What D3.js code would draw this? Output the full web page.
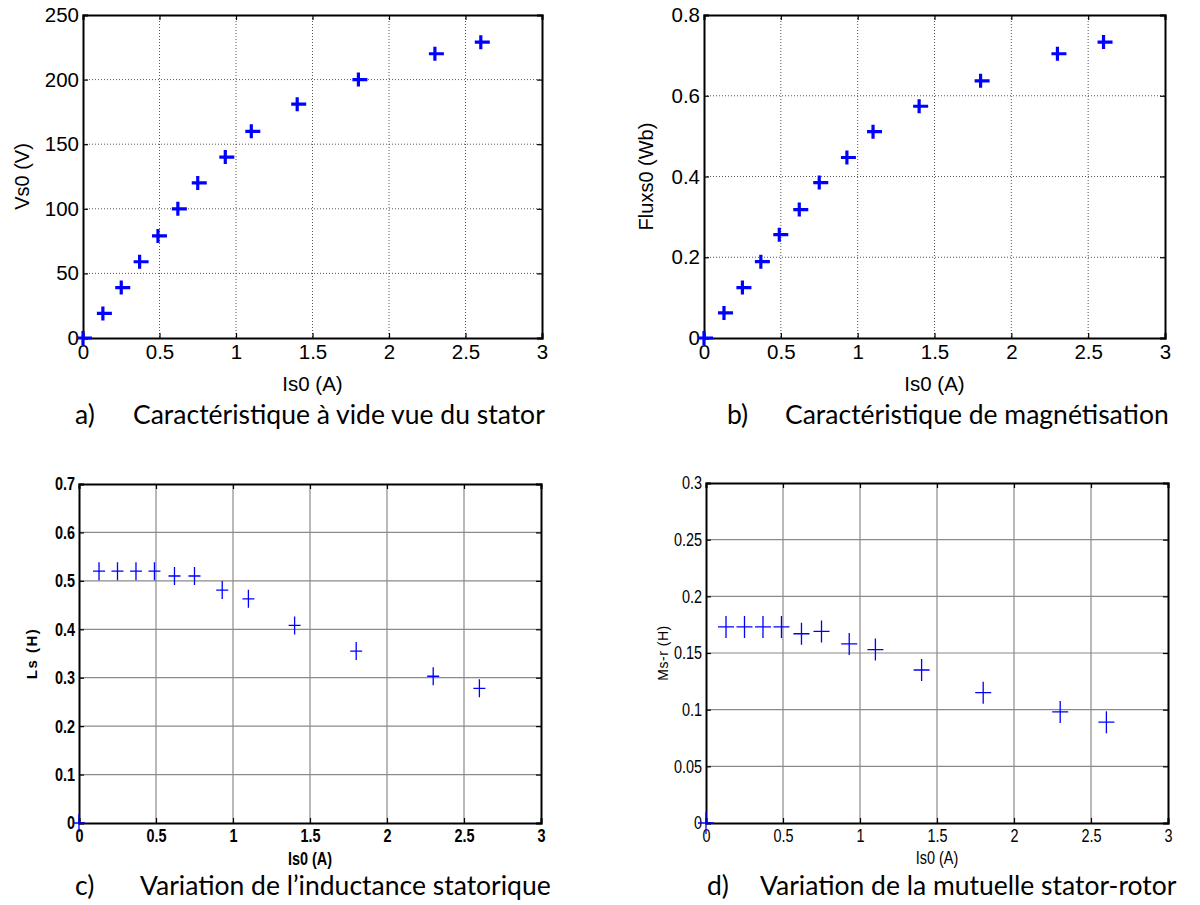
<!DOCTYPE html>
<html>
<head>
<meta charset="utf-8">
<script src="https://cdn.jsdelivr.net/npm/d3@7/dist/d3.min.js"></script>
<style>
    body { margin: 0; background: #fff; }
</style>
</head>
<body>
<script>
// courant statorique a vide Is0 (A)
const is0 = [0, 0.13, 0.25, 0.37, 0.49, 0.62, 0.75, 0.93, 1.1, 1.4, 1.8, 2.3, 2.6];
// tension a vide Vs0 (V)
const vs0 = [0, 19, 39, 59, 79, 100, 120, 140, 160, 181, 200, 220, 229];
// flux statorique Fluxs0 (Wb)
const fluxs0 = [0, 0.062, 0.125, 0.189, 0.256, 0.318, 0.385, 0.447, 0.511, 0.574, 0.637, 0.704, 0.733];
// inductance statorique Ls (H)
const ls = [0, 0.52, 0.52, 0.52, 0.52, 0.51, 0.51, 0.481, 0.463, 0.408, 0.355, 0.303, 0.278];
// mutuelle stator-rotor Ms-r (H)
const msr = [0, 0.173, 0.173, 0.173, 0.173, 0.167, 0.169, 0.158, 0.153, 0.135, 0.115, 0.098, 0.089];

// tick labels
const xTicks = [0, 0.5, 1, 1.5, 2, 2.5, 3];
const vsTicks = [0, 50, 100, 150, 200, 250];
const fluxTicks = [0, 0.2, 0.4, 0.6, 0.8];
const lsTicks = [0, 0.1, 0.2, 0.3, 0.4, 0.5, 0.6, 0.7];
const msrTicks = [0, 0.05, 0.1, 0.15, 0.2, 0.25, 0.3];

const svg = d3.select('body').append('svg')
    .attr('width', 1200)
    .attr('height', 905);

// the three looks used in the figure (matlab default, bold narrow, narrow)
const styles = {
    matlab: {
        font: '"Liberation Sans", Arial, sans-serif', size: 20.5, weight: 'normal', squeeze: 1,
        labelSize: 20, labelSpacing: 0,
        grid: '#555', gridDash: '1,2', gridWidth: 1,
        marker: 'M-6,0H9M0,-7V7', markerWidth: 3.2
    },
    bold: {
        font: '"Liberation Sans", Arial, sans-serif', size: 18.5, weight: 'bold', squeeze: 0.78,
        labelSize: 15, labelSpacing: 1.5,
        grid: '#8a8a8a', gridDash: null, gridWidth: 1.2,
        marker: 'M-6,0H6M0,-9V9', markerWidth: 1.3
    },
    narrow: {
        font: '"Liberation Sans", Arial, sans-serif', size: 18.5, weight: 'normal', squeeze: 0.78,
        labelSize: 14, labelSpacing: 0.5,
        grid: '#8a8a8a', gridDash: null, gridWidth: 1.2,
        marker: 'M-8,0H8M0,-11V11', markerWidth: 1.3
    }
};

const panels = [
    {left: 83, top: 15, width: 459, height: 323, ys: vs0, yTicks: vsTicks, yDomain: [0, 250],
     yLabel: 'Vs0 (V)', yLabelX: 22, xLabelY: 384, style: 'matlab',
     letter: 'a)', letterX: 75, caption: 'Caractéristique à vide vue du stator', captionX: 133, captionY: 424},
    {left: 704, top: 15, width: 461, height: 323, ys: fluxs0, yTicks: fluxTicks, yDomain: [0, 0.8],
     yLabel: 'Fluxs0 (Wb)', yLabelX: 646, xLabelY: 384, style: 'matlab',
     letter: 'b)', letterX: 727, caption: 'Caractéristique de magnétisation', captionX: 785, captionY: 424},
    {left: 79, top: 484, width: 462, height: 339, ys: ls, yTicks: lsTicks, yDomain: [0, 0.7],
     yLabel: 'Ls (H)', yLabelX: 32, xLabelY: 859, style: 'bold',
     letter: 'c)', letterX: 75, caption: 'Variation de l’inductance statorique', captionX: 140, captionY: 895},
    {left: 706, top: 483, width: 462, height: 340, ys: msr, yTicks: msrTicks, yDomain: [0, 0.3],
     yLabel: 'Ms-r (H)', yLabelX: 663, xLabelY: 858, style: 'narrow',
     letter: 'd)', letterX: 707, caption: 'Variation de la mutuelle stator-rotor', captionX: 760, captionY: 895}
];

function styleText(sel, st, size) {
    sel.style('font-family', st.font)
        .style('font-size', size + 'px')
        .style('font-weight', st.weight)
        .attr('fill', '#000');
}

// no narrow font installed, so squeeze the glyphs horizontally
function squeeze(sel, k) {
    if (k === 1) return;
    sel.each(function() {
        const t = d3.select(this);
        const x = parseFloat(t.attr('x')) || 0;
        t.attr('x', x / k).attr('transform', `scale(${k},1)`);
    });
}

function drawPanel(p) {
    const st = styles[p.style];
    const g = svg.append('g').attr('transform', `translate(${p.left},${p.top})`);

    const x = d3.scaleLinear().domain([0, 3]).range([0, p.width]);
    const y = d3.scaleLinear().domain(p.yDomain).range([p.height, 0]);

    // grid lines
    const grid = g.append('g');
    grid.selectAll('.gx').data(xTicks.slice(1, -1)).join('line')
        .attr('x1', d => x(d)).attr('x2', d => x(d))
        .attr('y1', 0).attr('y2', p.height);
    grid.selectAll('.gy').data(p.yTicks.slice(1, -1)).join('line')
        .attr('x1', 0).attr('x2', p.width)
        .attr('y1', d => y(d)).attr('y2', d => y(d));
    grid.selectAll('line')
        .attr('stroke', st.grid)
        .attr('stroke-width', st.gridWidth)
        .attr('stroke-dasharray', st.gridDash);

    // axes, ticks pointing inside like matlab
    const xAxis = d3.axisBottom(x).tickValues(xTicks).tickSize(-5).tickPadding(6).tickFormat(d3.format('~g'));
    const yAxis = d3.axisLeft(y).tickValues(p.yTicks).tickSize(-5).tickPadding(4).tickFormat(d => String(d));

    const gx = g.append('g').attr('transform', `translate(0,${p.height})`).call(xAxis);
    const gy = g.append('g').call(yAxis);
    g.append('g').call(d3.axisTop(x).tickValues(xTicks).tickSize(-5).tickFormat(''));
    g.append('g').attr('transform', `translate(${p.width},0)`)
        .call(d3.axisRight(y).tickValues(p.yTicks).tickSize(-5).tickFormat(''));

    g.selectAll('.domain').attr('stroke', '#000').attr('stroke-width', 2);
    g.selectAll('.tick line').attr('stroke', '#000').attr('stroke-width', 1.2);
    [gx, gy].forEach(a => {
        a.selectAll('text').call(styleText, st, st.size).call(squeeze, st.squeeze);
    });
    gx.selectAll('text').attr('dy', '0.72em');

    // data markers
    g.append('g').selectAll('path').data(is0.map((v, i) => [v, p.ys[i]])).join('path')
        .attr('transform', d => `translate(${x(d[0])},${y(d[1])})`)
        .attr('d', st.marker)
        .attr('fill', 'none')
        .attr('stroke', '#0000ff')
        .attr('stroke-width', st.markerWidth);

    // axis titles
    svg.append('text')
        .attr('transform', `translate(${p.yLabelX},${p.top + p.height / 2}) rotate(-90)`)
        .attr('text-anchor', 'middle')
        .attr('dy', '0.35em')
        .style('letter-spacing', st.labelSpacing + 'px')
        .text(p.yLabel)
        .call(styleText, st, st.labelSize);

    svg.append('text')
        .attr('x', (p.left + p.width / 2) / st.squeeze)
        .attr('y', p.xLabelY)
        .attr('transform', `scale(${st.squeeze},1)`)
        .attr('text-anchor', 'middle')
        .attr('dy', '0.35em')
        .text('Is0 (A)')
        .call(styleText, st, st.size);

    // caption under the plot
    const cap = svg.append('g')
        .style('font-family', 'Lato, "Open Sans", sans-serif')
        .style('font-size', '26.5px')
        .attr('fill', '#000');
    cap.append('text').attr('x', p.letterX).attr('y', p.captionY).text(p.letter);
    cap.append('text').attr('x', p.captionX).attr('y', p.captionY).text(p.caption);
}

panels.forEach(drawPanel);
</script>
</body>
</html>
